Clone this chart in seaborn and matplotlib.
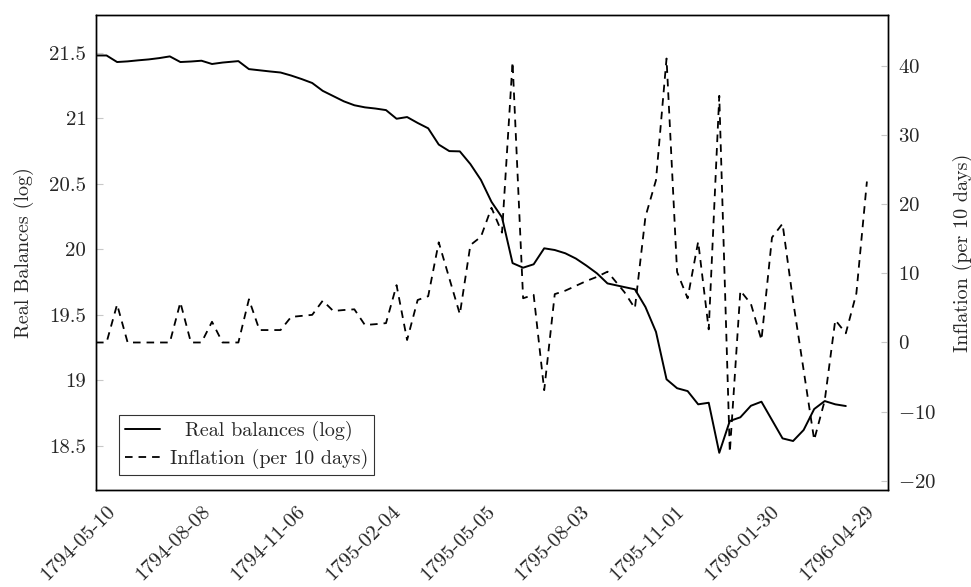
import numpy as np
import pandas as pd
import matplotlib
matplotlib.use("Agg")
import matplotlib.pyplot as plt
import matplotlib.transforms as mtransforms
from matplotlib.lines import Line2D
import seaborn as sns

# Dekad start dates (French Republican calendar, complementary days skipped)
dates_a = pd.date_range("1794-05-10", "1794-09-07", freq="10D")
dates_b = pd.date_range("1794-09-22", "1795-09-07", freq="10D")
dates_c = pd.date_range("1795-09-23", "1796-05-10", freq="10D")
dates = dates_a.append(dates_b).append(dates_c)

real_balances = [
    21.48, 21.48, 21.43, 21.435, 21.443, 21.45, 21.46, 21.473, 21.43, 21.434,
    21.44, 21.415, 21.426, 21.437, 21.376, 21.367, 21.358, 21.35, 21.327, 21.30,
    21.27, 21.21, 21.17, 21.13, 21.10, 21.084, 21.075, 21.063, 20.997, 21.01,
    20.965, 20.924, 20.80, 20.75, 20.748, 20.651, 20.53, 20.363, 20.244, 19.895,
    19.86, 19.886, 20.008, 19.995, 19.97, 19.93, 19.876, 19.817, 19.74, 19.712,
    19.695, 19.56, 19.37, 19.008, 18.94, 18.918, 18.817, 18.829, 18.447, 18.69,
    18.718, 18.806, 18.837, 18.697, 18.557, 18.537, 18.621, 18.781, 18.842, 18.817,
    18.804,
]

inflation = [
    0, 0, 5.5, 0, 0, 0, 0, 0, 5.8, 0,
    0, 3.0, 0, 0, 6.25, 1.8, 1.8, 1.8, 3.7, 3.85,
    4.0, 6.05, 4.56, 4.7, 4.8, 2.53, 2.65, 2.8, 8.3, 0.36,
    6.15, 6.7, 14.5, 9.3, 4.1, 14.1, 15.3, 19.5, 15.9, 40.6,
    6.4, 6.9, -6.9, 7.0, 7.5, 8.2, 8.9, 9.5, 10.25, 7.3,
    4.95, 18.2, 23.5, 41.1, 10.2, 6.4, 14.6, 1.9, 35.7, -15.9,
    7.5, 5.6, 0.36, 15.2, 17.2, 6.0, -4.0, -14.1, -8.4, 3.25,
    1.33, 7.1, 23.3,
]

x_tick_labels = ["1794-05-10", "1794-08-08", "1794-11-06", "1795-02-04", "1795-05-05",
                 "1795-08-03", "1795-11-01", "1796-01-30", "1796-04-29"]
left_ticks = [18.5, 19, 19.5, 20, 20.5, 21, 21.5]
right_ticks = [-20, -10, 0, 10, 20, 30, 40]

df_rb = pd.DataFrame({"date": dates[:len(real_balances)], "value": real_balances})
df_inf = pd.DataFrame({"date": dates[:len(inflation)], "value": inflation})

sns.set_style("white")
plt.rcParams["font.family"] = ["cmr10", "DejaVu Serif"]
plt.rcParams["mathtext.fontset"] = "cm"
plt.rcParams["axes.formatter.use_mathtext"] = True
plt.rcParams["axes.unicode_minus"] = True

TFS = 15
FS = 14.5
fig = plt.figure(figsize=(9.71, 5.87), dpi=100)
ax = fig.add_axes([96 / 971, 1 - 490 / 587, (888 - 96) / 971, (490 - 15) / 587])
ax2 = ax.twinx()

sns.lineplot(data=df_rb, x="date", y="value", ax=ax, color="black", linewidth=1.4,
             legend=False)
sns.lineplot(data=df_inf, x="date", y="value", ax=ax2, color="black", linewidth=1.3,
             legend=False)
ax2.lines[0].set_dashes((4.2, 3.3))

ax.set_xlim(pd.Timestamp("1794-05-10"), pd.Timestamp("1794-05-10") + pd.Timedelta(days=751))
ax.set_ylim(18.163, 21.789)
ax2.set_ylim(-21.35, 47.4)

for a in (ax, ax2):
    a.tick_params(direction="in", length=5, width=0.8, color="#c8c8c8", pad=7)
    for s in a.spines.values():
        s.set_color("black")
        s.set_linewidth(1.0)
ax.tick_params(axis="x", pad=9)

ax.set_xticks(pd.to_datetime(x_tick_labels))
ax.set_xticklabels(x_tick_labels, rotation=45, ha="right", va="top",
                   rotation_mode="anchor", fontsize=TFS)
ax.set_yticks(left_ticks)
ax.set_yticklabels([f"{v:g}" for v in left_ticks], fontsize=TFS)
ax2.set_yticks(right_ticks)
ax2.set_yticklabels([f"${v:g}$" for v in right_ticks], fontsize=TFS)

ax.set_xlabel("")
ax.set_ylabel("Real Balances (log)", fontsize=FS, labelpad=11)
ax2.set_ylabel("Inflation (per 10 days)", fontsize=FS, labelpad=12)
ax2.yaxis.set_label_position("right")

handles = [Line2D([], [], color="black", linewidth=1.4),
           Line2D([], [], color="black", linewidth=1.3, dashes=(4.2, 3.3))]
leg = ax.legend(handles, ["Real balances (log)", "Inflation (per 10 days)"],
                loc="lower left", bbox_to_anchor=(0.029, 0.0316), fontsize=FS,
                frameon=True, fancybox=False, handlelength=1.75, borderpad=0.28,
                labelspacing=0.42, handletextpad=0.5, borderaxespad=0)
leg.get_frame().set_edgecolor("black")
leg.get_frame().set_linewidth(0.8)

fig.canvas.draw()
# shift the rotated date labels a little to the right (as in the original)
shift = mtransforms.ScaledTranslation(10 / 100, 0, fig.dpi_scale_trans)
for tick in ax.xaxis.get_major_ticks():
    tick.label1.set_transform(tick.label1.get_transform() + shift)

# centre the legend texts within their column (as in the original)
renderer = fig.canvas.get_renderer()
texts = leg.get_texts()
widths = [t.get_window_extent(renderer).width for t in texts]
wmax = max(widths)
column = leg._legend_handle_box.get_children()[0]
for item, w in zip(column.get_children(), widths):
    item.sep = item.sep + 0.5 * (wmax - w) * 72 / fig.dpi

fig.savefig("out.png", dpi=100)
